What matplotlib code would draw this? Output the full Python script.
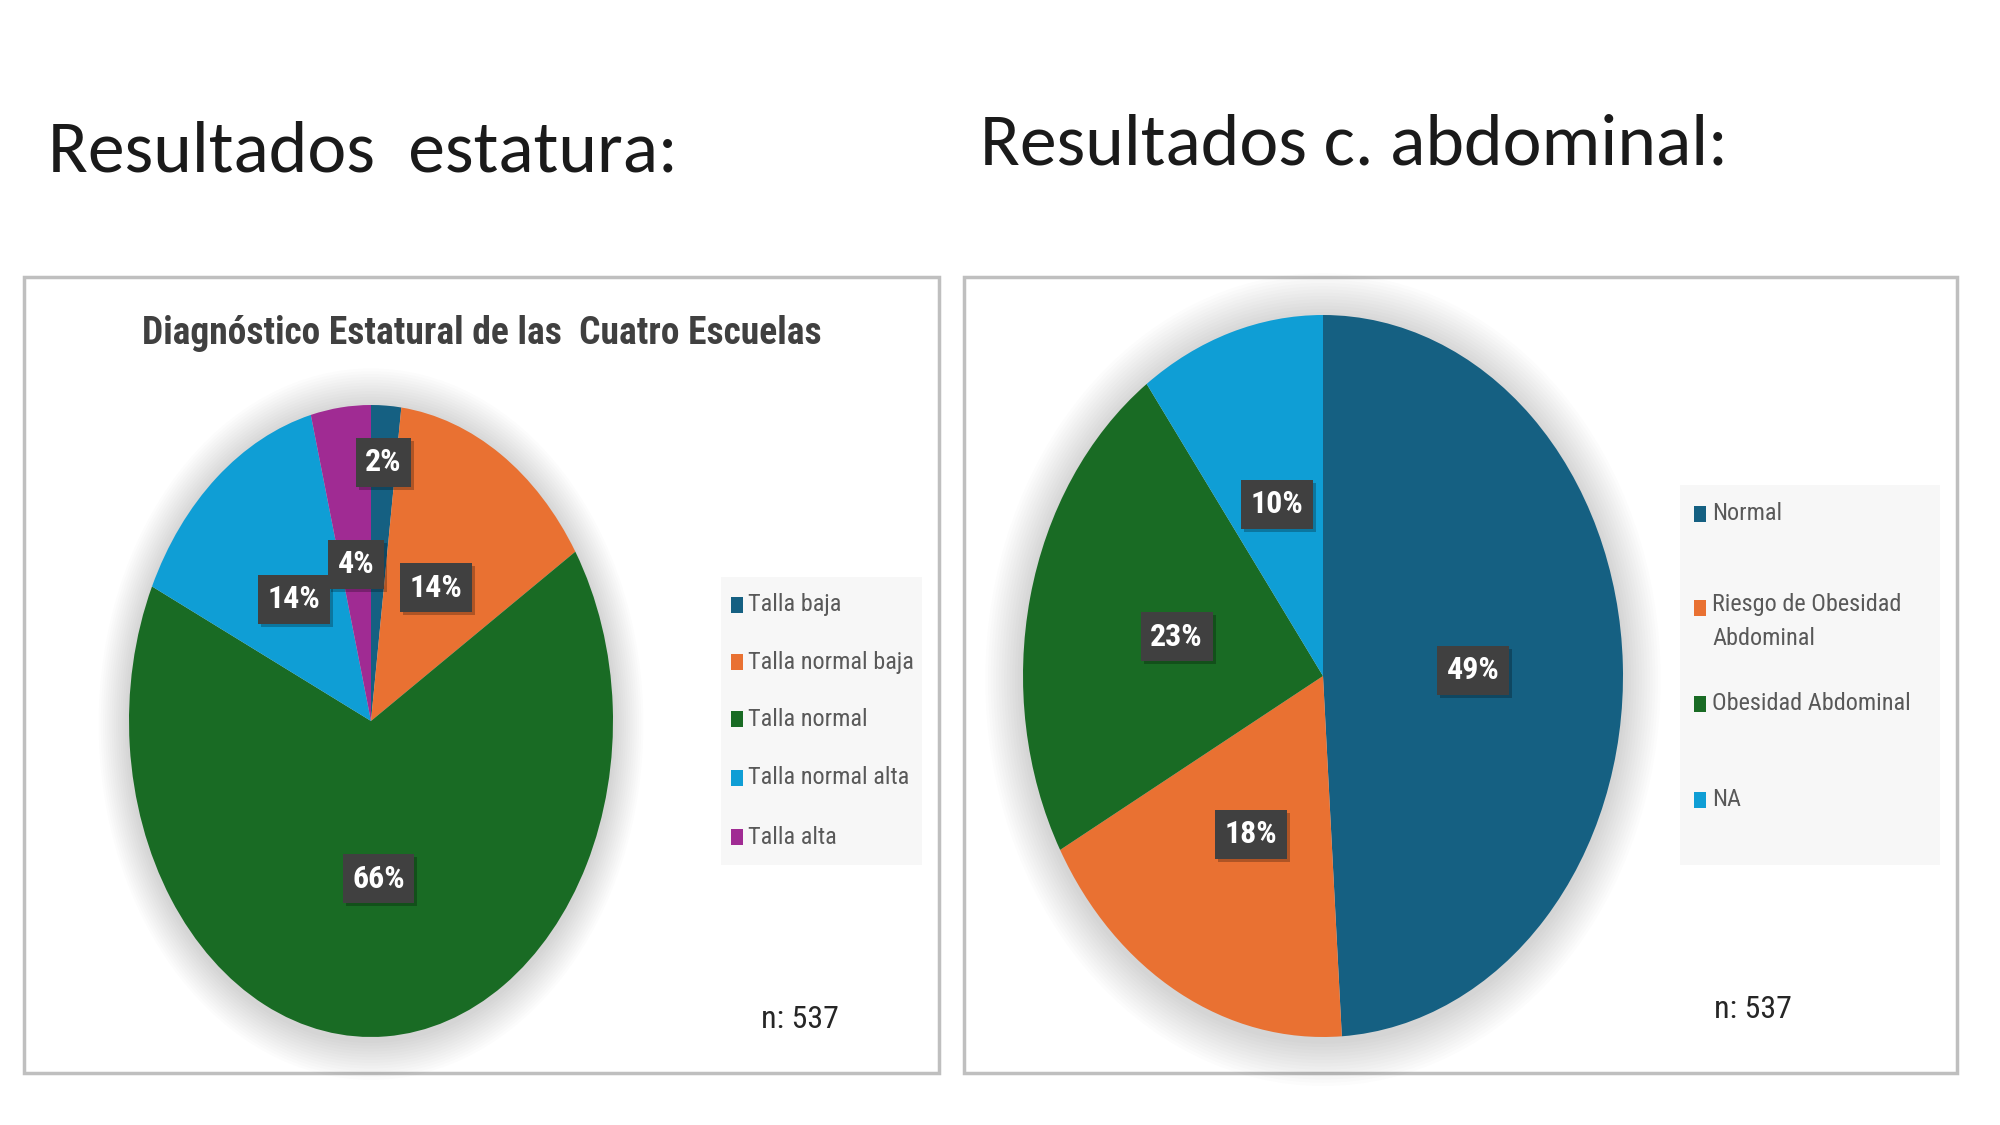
import matplotlib
matplotlib.use("Agg")
import matplotlib.pyplot as plt
import matplotlib.transforms as mtransforms
from matplotlib.patches import Rectangle, Ellipse
import numpy as np

# ---- data -----------------------------------------------------------------
talla_labels = ["Talla baja", "Talla normal baja", "Talla normal",
                "Talla normal alta", "Talla alta"]
talla_pct = [2, 14, 66, 14, 4]
talla_colors = ["#156082", "#E97132", "#196B24", "#0F9ED5", "#A02B93"]

abd_labels = ["Normal", "Riesgo de Obesidad\nAbdominal", "Obesidad Abdominal", "NA"]
abd_pct = [49, 18, 23, 10]
abd_colors = ["#156082", "#E97132", "#196B24", "#0F9ED5"]

n_total = 537

W, H = 2000, 1125
NARROW = ["Roboto Condensed", "DejaVu Sans"]
TITLE = ["Carlito", "Lato", "DejaVu Sans"]

fig = plt.figure(figsize=(20, 11.25), dpi=100)
bg = fig.add_axes([0, 0, 1, 1])
bg.set_xlim(0, W)
bg.set_ylim(H, 0)
bg.axis("off")

# slide titles
bg.text(48, 152, "Resultados  estatura:", fontsize=53, family=TITLE,
        color="#1a1a1a", va="center", ha="left")
bg.text(980, 145, "Resultados c. abdominal:", fontsize=53, family=TITLE,
        color="#1a1a1a", va="center", ha="left")

# chart frames
for x0, x1 in [(24, 939), (964, 1957)]:
    bg.add_patch(Rectangle((x0, 277), x1 - x0, 1073 - 277, fc="white",
                           ec="#BFBFBF", lw=2.5, zorder=1))

bg.text(482, 334, "Diagnóstico Estatural de las  Cuatro Escuelas", fontsize=27,
        family=NARROW, fontweight="bold", color="#404040",
        ha="center", va="center", zorder=3)


def pie_axes(cx, cy, rx, ry):
    ax = fig.add_axes([(cx - rx) / W, 1 - (cy + ry) / H, 2 * rx / W, 2 * ry / H])
    ax.set_zorder(2)
    return ax


def draw_pie(ax, values, colors, dists):
    # soft shadow around the pie
    for k in range(14, 0, -1):
        s = 1 + 0.009 * k
        ax.add_patch(Ellipse((0.0, -0.01), 2 * s, 2 * s, fc="#000000",
                             ec="none", alpha=0.011, zorder=0, clip_on=False))
    wedges, _ = ax.pie(values, colors=colors, startangle=90, counterclock=False,
                       radius=1, wedgeprops=dict(linewidth=0))
    ax.set_aspect("auto")
    ax.set_xlim(-1, 1)
    ax.set_ylim(-1, 1)
    ax.axis("off")
    shadow_tr = mtransforms.offset_copy(ax.transData, fig=fig, x=3, y=-3,
                                        units="dots")
    for w, v, d in zip(wedges, values, dists):
        ang = np.deg2rad((w.theta1 + w.theta2) / 2)
        x, y = d * np.cos(ang), d * np.sin(ang)
        txt = f"{v}%"
        ax.text(x, y, txt, transform=shadow_tr, fontsize=23, family=NARROW,
                fontweight="bold", color="none", ha="center", va="center",
                bbox=dict(boxstyle="square,pad=0.3", fc="#000000", ec="none",
                          alpha=0.25), zorder=4)
        ax.text(x, y, txt, fontsize=23, family=NARROW, fontweight="bold",
                color="white", ha="center", va="center",
                bbox=dict(boxstyle="square,pad=0.3", fc="#404040", ec="none"),
                zorder=5)


ax1 = pie_axes(371, 721, 242, 316)
draw_pie(ax1, talla_pct, talla_colors, [0.82, 0.5, 0.5, 0.5, 0.5])

ax2 = pie_axes(1323, 676, 300, 361)
draw_pie(ax2, abd_pct, abd_colors, [0.5, 0.5, 0.5, 0.5])


def legend(box, mx, tx, ys, labels, colors):
    x0, y0, x1, y1 = box
    bg.add_patch(Rectangle((x0, y0), x1 - x0, y1 - y0, fc="#F7F7F7",
                           ec="none", zorder=2))
    for y, lab, col in zip(ys, labels, colors):
        bg.add_patch(Rectangle((mx - 6, y - 8), 12, 16, fc=col, ec="none",
                               zorder=3))
        bg.text(tx, y - 15 if "\n" in lab else y, lab, fontsize=17.5,
                family=NARROW, color="#595959", ha="left",
                va="top" if "\n" in lab else "center",
                linespacing=1.6, zorder=3)


legend((721, 577, 922, 865), 737, 748, [605, 662, 719, 778, 837],
       talla_labels, talla_colors)
legend((1680, 485, 1940, 865), 1700, 1712, [514, 608, 704, 800],
       abd_labels, abd_colors)

bg.text(800, 1019, f"n: {n_total}", fontsize=23, family=NARROW, color="#262626",
        ha="center", va="center", zorder=3)
bg.text(1753, 1009, f"n: {n_total}", fontsize=23, family=NARROW, color="#262626",
        ha="center", va="center", zorder=3)

fig.savefig("out.png", dpi=100)
